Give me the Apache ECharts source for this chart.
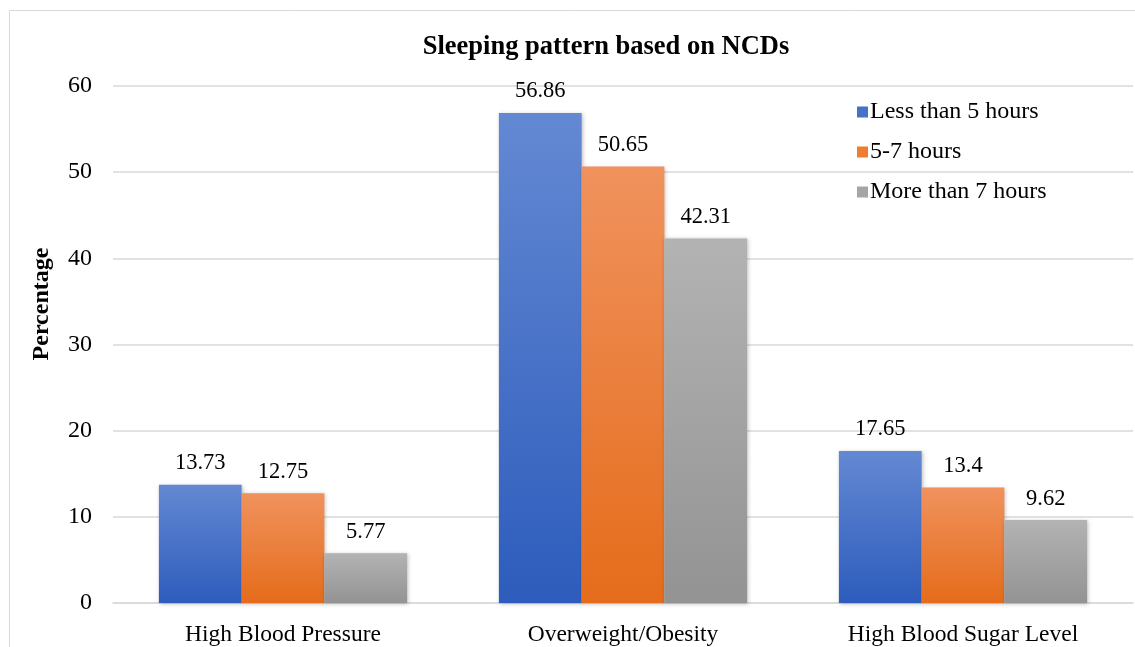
<!DOCTYPE html>
<html><head><meta charset="utf-8">
<script src="https://cdn.jsdelivr.net/npm/echarts@6/dist/echarts.min.js"></script>
<style>html,body{margin:0;padding:0;background:#fff}#c{width:1135px;height:647px}</style>
</head><body><div id="c"></div>
<script>
const categories = ["High Blood Pressure", "Overweight/Obesity", "High Blood Sugar Level"];
const seriesNames = ["Less than 5 hours", "5-7 hours", "More than 7 hours"];
const lessThan5 = [13.73, 56.86, 17.65];
const from5to7 = [12.75, 50.65, 13.4];
const moreThan7 = [5.77, 42.31, 9.62];
const yTicks = [0, 10, 20, 30, 40, 50, 60];

const font = "'Liberation Serif', 'Times New Roman', serif";
function grad(top, bottom) {
  return new echarts.graphic.LinearGradient(0, 0, 0, 1, [
    {offset: 0, color: top}, {offset: 1, color: bottom}
  ]);
}
const styles = [
  {c: grad('#6489d3', '#2d5cbc'), legend: '#4472c4'},
  {c: grad('#f0925d', '#e56c1b'), legend: '#ed7d31'},
  {c: grad('#b3b3b3', '#939393'), legend: '#a5a5a5'}
];
const data = [lessThan5, from5to7, moreThan7];

const chart = echarts.init(document.getElementById('c'));
chart.setOption({
  animation: false,
  backgroundColor: '#fff',
  title: {
    text: 'Sleeping pattern based on NCDs',
    left: 601, top: 29, textAlign: 'center',
    textStyle: {fontFamily: font, fontSize: 26.5, fontWeight: 'bold', color: '#000'}
  },
  legend: {
    orient: 'vertical', left: 852, top: 95, itemGap: 16,
    itemWidth: 11, itemHeight: 11, icon: 'rect',
    textStyle: {fontFamily: font, fontSize: 24, color: '#000', padding: [0, 0, 0, -3]},
    data: seriesNames.map((n, i) => ({name: n, itemStyle: {color: styles[i].legend}}))
  },
  grid: {left: 113, right: 2, top: 86, bottom: 42, containLabel: false},
  xAxis: {
    type: 'category', data: categories,
    axisLine: {lineStyle: {color: '#d9d9d9', width: 1.5}},
    axisTick: {show: false},
    axisLabel: {fontFamily: font, fontSize: 23.5, color: '#000', margin: 20}
  },
  yAxis: {
    type: 'value', min: 0, max: 60, interval: 10,
    axisLabel: {fontFamily: font, fontSize: 24, color: '#000', margin: 21,
      formatter: v => yTicks.includes(v) ? String(v) : ''},
    splitLine: {lineStyle: {color: '#d9d9d9', width: 1.5}},
    axisLine: {show: false}, axisTick: {show: false}
  },
  graphic: [{
    type: 'rect', silent: true, z: -1,
    shape: {x: 9.5, y: 10.5, width: 1200, height: 700},
    style: {fill: 'none', stroke: '#d9d9d9', lineWidth: 1}
  }, {
    type: 'text', silent: true, x: 42, y: 304, rotation: Math.PI / 2,
    style: {text: 'Percentage', fontFamily: font, fontSize: 24, fontWeight: 'bold',
      fill: '#000', align: 'center', verticalAlign: 'middle'}
  }],
  series: seriesNames.map((n, i) => ({
    name: n, type: 'bar', data: data[i],
    barGap: '0%', barCategoryGap: '27%',
    itemStyle: {color: styles[i].c, shadowColor: 'rgba(0,0,0,0.25)', shadowBlur: 4, shadowOffsetX: 1, shadowOffsetY: 1},
    label: {show: true, position: 'top', distance: 10, fontFamily: font, fontSize: 22.5, color: '#000'}
  }))
});
</script></body></html>
